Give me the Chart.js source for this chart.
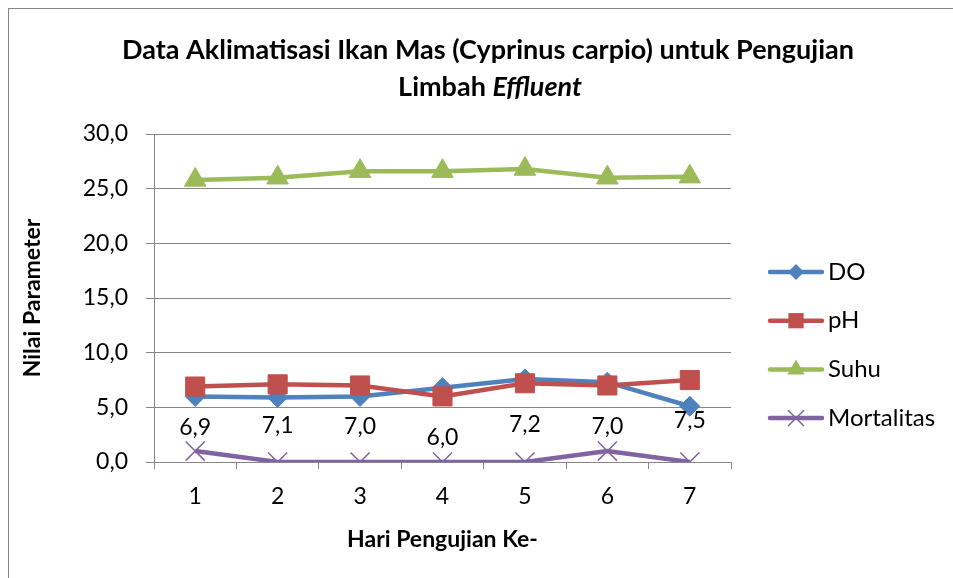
<!DOCTYPE html>
<html><head><meta charset="utf-8">
<script src="https://cdn.jsdelivr.net/npm/chart.js@4.4.1/dist/chart.umd.min.js"></script>
<style>html,body{margin:0;padding:0;background:#fff;overflow:hidden}</style>
</head><body>
<canvas id="c" width="953" height="578"></canvas>
<script>
const categories = ['1','2','3','4','5','6','7'];
const doValues = [6.0, 5.9, 6.0, 6.8, 7.6, 7.3, 5.1];
const phValues = [6.9, 7.1, 7.0, 6.0, 7.2, 7.0, 7.5];
const suhuValues = [25.8, 26.0, 26.6, 26.6, 26.8, 26.0, 26.1];
const mortalitasValues = [1, 0, 0, 0, 0, 1, 0];
const seriesNames = ['DO', 'pH', 'Suhu', 'Mortalitas'];
const seriesColors = ['#4F81BD', '#C0504D', '#9BBB59', '#8064A2'];
const yMin = 0, yMax = 30, yStep = 5;
const titleLine1 = 'Data Aklimatisasi Ikan Mas (Cyprinus carpio) untuk Pengujian';
const titleLine2a = 'Limbah ';
const titleLine2b = 'Effluent';
const xTitle = 'Hari Pengujian Ke-';
const yTitle = 'Nilai Parameter';

const FONT = 'Lato, "Open Sans", "Liberation Sans", sans-serif';
const fmt = v => Number(v).toFixed(1).replace('.', ',');

const pointStyles = ['rectRot', 'rect', 'triangle', 'crossRot'];
const pointRadii = [10, 13.5, 12.5, 13.5];
const pointBW = [1, 1, 1, 1.5];

const datasets = [doValues, phValues, suhuValues, mortalitasValues].map((vals, i) => ({
  label: seriesNames[i],
  data: vals,
  borderColor: seriesColors[i],
  backgroundColor: seriesColors[i],
  borderWidth: 4.5,
  pointStyle: pointStyles[i],
  pointRadius: pointRadii[i],
  pointHoverRadius: pointRadii[i],
  pointBackgroundColor: seriesColors[i],
  pointBorderColor: seriesColors[i],
  pointBorderWidth: pointBW[i],
  tension: 0,
  order: 4 - i
}));

const decorPlugin = {
  id: 'decor',
  afterDraw(chart) {
    const ctx = chart.ctx;
    ctx.save();
    // outer border
    ctx.strokeStyle = '#868686';
    ctx.lineWidth = 1;
    ctx.strokeRect(8.5, 8.5, 1000, 1000);
    // title
    ctx.fillStyle = '#000';
    ctx.textBaseline = 'middle';
    ctx.textAlign = 'left';
    ctx.font = 'bold 27px ' + FONT;
    const w1 = ctx.measureText(titleLine1).width;
    ctx.fillText(titleLine1, 488 - w1 / 2, 50);
    const wa = ctx.measureText(titleLine2a).width;
    ctx.font = 'italic bold 27px ' + FONT;
    const wb = ctx.measureText(titleLine2b).width;
    const sx = 490 - (wa + wb) / 2;
    ctx.font = 'bold 27px ' + FONT;
    ctx.fillText(titleLine2a, sx, 87);
    ctx.font = 'italic bold 27px ' + FONT;
    ctx.fillText(titleLine2b, sx + wa, 87);
    // data labels for pH
    const meta = chart.getDatasetMeta(1);
    ctx.font = '23px ' + FONT;
    ctx.textAlign = 'center';
    meta.data.forEach((pt, j) => {
      ctx.fillText(fmt(phValues[j]), pt.x, pt.y + 41);
    });
    // legend
    const lx = 770, lw = 52, ly0 = 272, lstep = 48.7;
    ctx.font = '24px ' + FONT;
    seriesNames.forEach((name, i) => {
      const y = ly0 + i * lstep;
      ctx.strokeStyle = seriesColors[i];
      ctx.lineWidth = 4.5;
      ctx.lineCap = 'round';
      ctx.beginPath(); ctx.moveTo(lx, y); ctx.lineTo(lx + lw, y); ctx.stroke();
      ctx.fillStyle = seriesColors[i];
      ctx.lineWidth = pointBW[i];
      ctx.beginPath();
      const r = pointRadii[i] * 0.8;
      const cx = lx + lw / 2;
      if (i === 0) { ctx.moveTo(cx, y - r); ctx.lineTo(cx + r, y); ctx.lineTo(cx, y + r); ctx.lineTo(cx - r, y); ctx.closePath(); ctx.fill(); }
      else if (i === 1) { const s = r * Math.SQRT1_2; ctx.rect(cx - s, y - s, 2 * s, 2 * s); ctx.fill(); }
      else if (i === 2) { ctx.moveTo(cx, y - r); ctx.lineTo(cx + r * 0.866, y + r / 2); ctx.lineTo(cx - r * 0.866, y + r / 2); ctx.closePath(); ctx.fill(); }
      else { const s = r * Math.SQRT1_2; ctx.moveTo(cx - s, y - s); ctx.lineTo(cx + s, y + s); ctx.moveTo(cx + s, y - s); ctx.lineTo(cx - s, y + s); ctx.stroke(); }
      ctx.fillStyle = '#000';
      ctx.textAlign = 'left';
      ctx.fillText(name, lx + lw + 6, y);
    });
    ctx.restore();
  }
};

new Chart(document.getElementById('c'), {
  type: 'line',
  data: { labels: categories, datasets },
  options: {
    responsive: false,
    animation: false,
    layout: { padding: { top: 134, right: 222, left: 0, bottom: 0 } },
    plugins: { legend: { display: false }, title: { display: false }, tooltip: { enabled: false } },
    scales: {
      x: {
        offset: true,
        grid: { offset: true, drawOnChartArea: false, drawTicks: true, tickLength: 7, color: '#868686' },
        border: { color: '#868686', width: 1 },
        ticks: { color: '#000', font: { size: 23, family: FONT }, padding: 14, maxRotation: 0 },
        title: { display: true, text: xTitle, color: '#000', font: { size: 23, weight: 'bold', family: FONT }, padding: { top: 0, bottom: 25 } },
        afterFit(s) { s.height = 116; }
      },
      y: {
        min: yMin, max: yMax,
        ticks: { stepSize: yStep, color: '#000', font: { size: 23, family: FONT }, padding: 18, callback: v => fmt(v) },
        grid: { color: '#868686', tickLength: 8, lineWidth: 1 },
        border: { color: '#868686', width: 1 },
        title: { display: true, text: yTitle, color: '#000', font: { size: 23, weight: 'bold', family: FONT }, padding: { top: 19, bottom: 0 } },
        afterFit(s) { s.width = 154; }
      }
    }
  },
  plugins: [decorPlugin]
});
</script>
</body></html>
